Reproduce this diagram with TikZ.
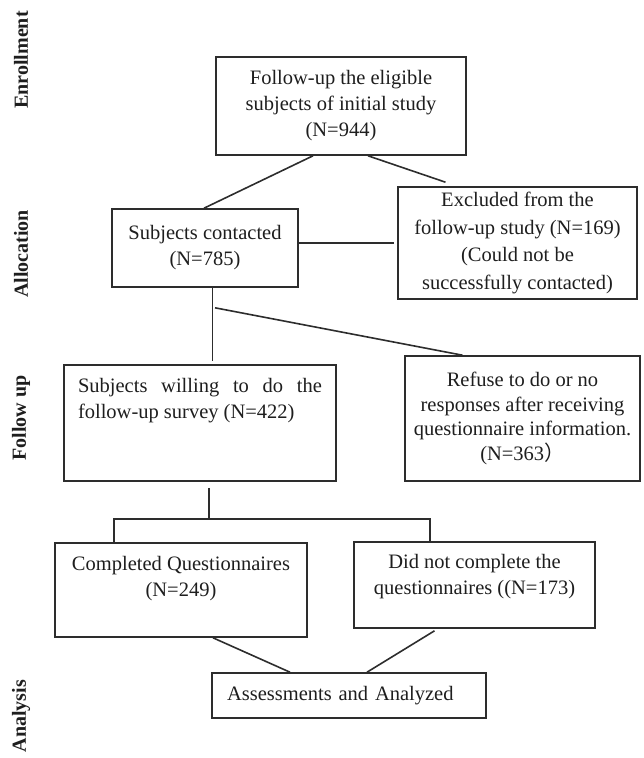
\documentclass[tikz,border=0pt]{standalone}
\usepackage{fontspec}
\setmainfont{Liberation Serif}
\newfontfamily\cjkfont{Noto Sans CJK SC}
\definecolor{boxline}{RGB}{45,45,45}
\definecolor{boxtext}{RGB}{30,30,30}
\usetikzlibrary{positioning,calc}

\begin{document}
\begin{tikzpicture}[x=1pt, y=-1pt,
    box/.style={draw=boxline, line width=1.6pt, inner sep=0pt, align=center, text=boxtext,
                font=\fontsize{20.5}{26}\selectfont},
    link/.style={draw=boxline, line width=1.6pt},
    stage/.style={rotate=90, text=boxtext, font=\fontsize{20}{20}\selectfont\bfseries}]
    \useasboundingbox (0,0) rectangle (643,758);

    \node[stage] (enrol) at (21,60) {Enrollment};
    \node[stage] (alloc) at (21,254) {Allocation};
    \node[stage] (follow) at (21,418) {Follow up};
    \node[stage] (analysis) at (21,716) {Analysis};

    \node[box, minimum width=250pt, minimum height=98pt] (initial) at (341,106)
        {Follow-up the eligible\\subjects of initial study\\(N=944)};
    \node[box, minimum width=186pt, minimum height=78pt] (contacted) at (205,248)
        {Subjects contacted\\(N=785)};
    \node[box, minimum width=239pt, minimum height=112pt, font=\fontsize{20.5}{27.5}\selectfont] (excluded) at (517.5,243)
        {Excluded from the\\follow-up study (N=169)\\(Could not be\\successfully contacted)};
    \node[box] (willing) at (200,423)
        {\parbox[c][116pt][t]{272pt}{\raggedright\vspace*{13pt}\hspace*{14pt}\makebox[244pt][s]{Subjects willing to do the}\\
         \hspace*{14pt}follow-up survey (N=422)}};
    \node[box, minimum width=235pt, minimum height=125pt, font=\fontsize{20.5}{24.5}\selectfont] (refuse) at (522.5,418.5)
        {Refuse to do or no\\responses after receiving\\questionnaire information.\\(N=363{\cjkfont ）}};
    \node[box] (completed) at (181,590)
        {\parbox[c][94pt][t]{252pt}{\centering\vspace*{13pt}Completed Questionnaires\\(N=249)}};
    \node[box] (didnot) at (474.5,585)
        {\parbox[c][86pt][t]{241pt}{\centering\vspace*{12pt}Did not complete the\\questionnaires ((N=173)}};
    \node[box, minimum width=274pt, minimum height=45pt, text width=244pt, inner xsep=15pt, align=left] (assess) at (349,695.5)
        {Assessments and Analyzed};

    \coordinate (fork) at ($(contacted.south)+(10,20)$);
    \coordinate (split) at ($(willing.south)+(9,37)$);

    \draw[link] ($(initial.south)+(-28,0)$) -- ($(contacted.north)+(-1,0)$);
    \draw[link] ($(initial.south)+(27,0)$) -- ($(excluded.north)+(-72,-4)$);
    \draw[link] (contacted.east |- excluded.west) -- ($(excluded.west)+(-3,0)$);
    \draw[link] ($(contacted.south)+(7.5,0)$) -- ($(contacted.south |- willing.north)+(7.5,-3)$);
    \draw[link] (fork) -- ($(refuse.north)+(-60,0)$);
    \draw[link] ($(willing.south)+(9,6)$) -- (split);
    \draw[link] ($(completed.north)+(-67,0)$) |- (split) -| ($(didnot.north)+(-44.5,0)$);
    \draw[link] ($(completed.south)+(32,0)$) -- ($(assess.north)+(-59,0)$);
    \draw[link] ($(didnot.south)+(-40,2)$) -- ($(assess.north)+(18,0)$);
\end{tikzpicture}
\end{document}
